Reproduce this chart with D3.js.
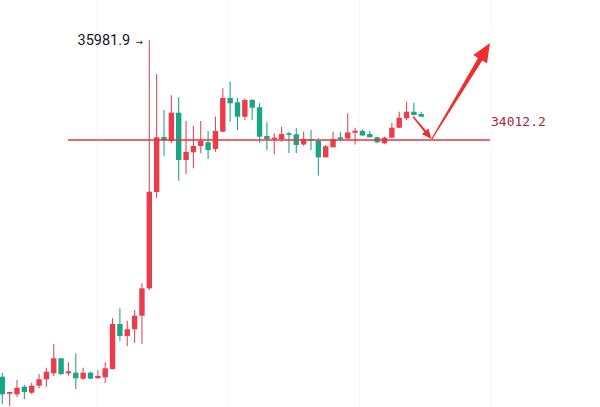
<!DOCTYPE html>
<html>
<head>
<meta charset="utf-8">
<script src="https://cdn.jsdelivr.net/npm/d3@7/dist/d3.min.js"></script>
<style>
  html, body { margin: 0; padding: 0; background: #ffffff; }
  svg { display: block; }
</style>
</head>
<body>
<svg id="chart" width="600" height="407"></svg>
<script>
// ---- data ----
const candleIndex = d3.range(58);
const opens  = [29350,29015,29003,29153,29035,29173,29299,29417,29712,29417,29429,29311,29429,29318,29338,29502,30388,30152,30284,30551,31091,32988,34071,33993,34550,33618,33770,33894,33967,33835,34176,34840,34755,34471,34800,34656,34091,34032,34032,34144,34125,33924,34032,33993,33671,33868,34065,34042,34156,34190,34130,34065,33947,34058,34254,34440,34570,34524];
const highs  = [29429,29055,29285,29186,29232,29403,29527,29994,29718,29634,29811,29527,29448,29482,29634,30500,30697,30453,30664,31190,35981.9,35312,34603,34893,34853,34386,34294,34386,34190,34475,35031,35161,34845,34834,34820,34735,34361,34144,34274,34176,34243,34176,34209,34046,33914,34176,34176,34538,34254,34223,34190,34077,34077,34353,34570,34767,34747,34570];
const lows   = [28812,28773,28956,28905,29003,29121,29153,29364,29383,29370,29108,29285,29299,29314,29220,29492,30053,29955,30020,29994,31058,32870,33697,33947,33211,33343,33455,33750,33638,33782,34170,34373,34209,34406,34406,33959,33815,33736,33979,33756,33756,33900,33815,33313,33671,33868,34002,34032,33924,34101,34065,33947,33928,34058,34254,34406,34505,34471];
const closes = [29003,29049,29133,29049,29173,29299,29448,29712,29403,29456,29318,29429,29311,29364,29515,30388,30152,30284,30551,31091,32994,34065,34006,34550,33618,33776,33894,33993,33815,34190,34840,34735,34471,34800,34648,34077,34032,34058,34130,34121,33914,34032,33998,33671,33888,34028,34032,34160,34195,34101,34065,33967,34058,34254,34451,34570,34505,34471];
const highLabel = "35981.9";
const highValue = 35981.9;
const levelLabel = "34012.2";
const levelValue = 34012.2;

// ---- drawing ----
const svg = d3.select("#chart");
const W = 600, H = 407;

const x = d3.scaleLinear().domain([0, 57]).range([2.3, 421.25]);
const y = d3.scaleLinear().domain([levelValue, highValue]).range([140, 40]);

const UP = "#ec3b4b", DOWN = "#18a686";
const UPWICK = "#d4505f", DOWNWICK = "#23a58a";

// faint vertical grid
svg.append("g").selectAll("line").data([97, 228, 359, 491]).join("line")
  .attr("x1", d => d).attr("x2", d => d).attr("y1", 0).attr("y2", H)
  .attr("stroke", "#f5f6f8").attr("stroke-width", 1);

const data = candleIndex.map(i => ({ i, o: opens[i], h: highs[i], l: lows[i], c: closes[i] }));

const g = svg.append("g");
const bw = 5.4;
g.selectAll("line.wick").data(data).join("line")
  .attr("class", "wick")
  .attr("x1", d => x(d.i)).attr("x2", d => x(d.i))
  .attr("y1", d => y(d.h)).attr("y2", d => y(d.l))
  .attr("stroke", d => d.c >= d.o ? UPWICK : DOWNWICK)
  .attr("stroke-width", 1.1);
g.selectAll("rect.body").data(data).join("rect")
  .attr("class", "body")
  .attr("x", d => x(d.i) - bw / 2)
  .attr("width", bw)
  .attr("y", d => y(Math.max(d.o, d.c)))
  .attr("height", d => Math.max(1.5, Math.abs(y(d.o) - y(d.c))))
  .attr("fill", d => d.c >= d.o ? UP : DOWN);

// horizontal level line
svg.append("line")
  .attr("x1", 68).attr("x2", 490)
  .attr("y1", y(levelValue)).attr("y2", y(levelValue))
  .attr("stroke", "#e8353b").attr("stroke-width", 1.5);

svg.append("text")
  .attr("x", 491).attr("y", 126)
  .attr("font-family", "DejaVu Sans Mono, monospace")
  .attr("font-size", 13)
  .attr("fill", "#a8283c")
  .text(levelLabel);

// high label
svg.append("text")
  .attr("x", 77.5).attr("y", 45)
  .attr("font-family", "Roboto, Arial, sans-serif")
  .attr("font-size", 14.5)
  .attr("fill", "#131722")
  .text(highLabel);
svg.append("text")
  .attr("x", 135.5).attr("y", 44.5)
  .attr("font-family", "DejaVu Sans, sans-serif")
  .attr("font-size", 8.5)
  .attr("fill", "#131722")
  .text("→");

// hand-drawn style arrows
const ARROW = "#ef2f2f";
function arrow(x0, y0, x1, y1, headLen, headHalf, w0, w1) {
  const dx = x1 - x0, dy = y1 - y0, len = Math.hypot(dx, dy);
  const ux = dx / len, uy = dy / len, px = -uy, py = ux;
  const bx = x1 - ux * headLen, by = y1 - uy * headLen;
  const pts = [
    [x0 + px * w0 / 2, y0 + py * w0 / 2],
    [bx + px * w1 / 2, by + py * w1 / 2],
    [bx + px * headHalf, by + py * headHalf],
    [x1, y1],
    [bx - px * headHalf, by - py * headHalf],
    [bx - px * w1 / 2, by - py * w1 / 2],
    [x0 - px * w0 / 2, y0 - py * w0 / 2]
  ];
  svg.append("path").attr("d", d3.line()(pts) + "Z").attr("fill", ARROW);
}
arrow(413, 116.5, 431.5, 139, 10, 4.2, 1.4, 2.2);
arrow(431.5, 139.5, 490, 43, 19, 8, 1.2, 5);
</script>
</body>
</html>
